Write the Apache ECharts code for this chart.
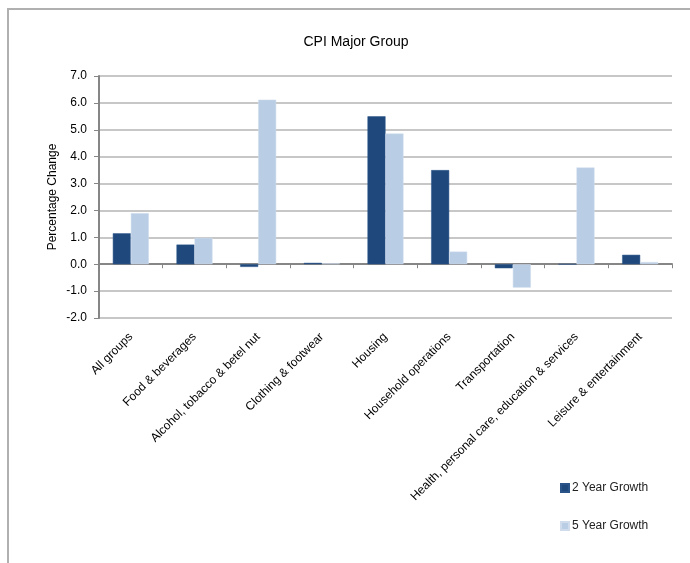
<!DOCTYPE html>
<html>
<head>
<meta charset="utf-8">
<script src="https://cdn.jsdelivr.net/npm/echarts@6/dist/echarts.min.js"></script>
<style>
html,body{margin:0;padding:0;background:#fff;}
#frame{position:absolute;left:7px;top:8px;right:-10px;bottom:-10px;border-left:2px solid #b0b0b0;border-top:2px solid #b0b0b0;}
#chart{position:absolute;left:0;top:0;width:690px;height:563px;}
</style>
</head>
<body>
<div id="frame"></div>
<div id="chart"></div>
<script>
const categories = ["All groups","Food & beverages","Alcohol, tobacco & betel nut","Clothing & footwear","Housing","Household operations","Transportation","Health, personal care, education & services","Leisure & entertainment"];
const growth2yr = [1.15, 0.73, -0.1, 0.05, 5.5, 3.5, -0.15, 0, 0.35];
const growth5yr = [1.9, 0.98, 6.12, 0.03, 4.86, 0.47, -0.87, 3.6, 0.08];
const seriesNames = ["2 Year Growth","5 Year Growth"];
const yTitle = "Percentage Change";
const chartTitle = "CPI Major Group";

const font = "'Liberation Sans',Arial,sans-serif";
const chart = echarts.init(document.getElementById('chart'));
chart.setOption({
  animation:false,
  title:{text:chartTitle,left:351,textAlign:'center',top:30,textStyle:{fontFamily:font,fontSize:14,fontWeight:'normal',color:'#000'}},
  grid:{left:99,right:18,top:76,bottom:245,containLabel:false},
  legend:{orient:'vertical',left:555,top:477,itemWidth:8,itemHeight:8,itemGap:26,icon:'rect',
    textStyle:{fontFamily:font,fontSize:12,color:'#222',padding:[0,0,0,-2]},data:seriesNames},
  xAxis:[
    {type:'category',data:categories,position:'bottom',
      axisLine:{show:false,onZero:false},axisTick:{show:false},
      axisLabel:{rotate:45,interval:0,margin:17,fontFamily:font,fontSize:12,color:'#000'}},
    {type:'category',data:categories,position:'bottom',
      axisLine:{show:true,onZero:true,lineStyle:{color:'#868686',width:2}},
      axisTick:{show:true,interval:0,length:4,lineStyle:{color:'#868686',width:1}},
      axisLabel:{show:false},splitLine:{show:false}}
  ],
  yAxis:{type:'value',min:-2,max:7,interval:1,name:yTitle,nameLocation:'middle',nameGap:40,nameMoveOverlap:false,
    nameTextStyle:{fontFamily:font,fontSize:12,color:'#000'},
    axisLine:{show:true,lineStyle:{color:'#868686',width:2}},
    axisTick:{show:true,length:5,lineStyle:{color:'#868686',width:1}},
    axisLabel:{fontFamily:font,fontSize:12,color:'#000',margin:12,formatter:v=>v.toFixed(1)},
    splitLine:{lineStyle:{color:'#b4b4b4',width:1.5}}},
  series:[
    {name:seriesNames[0],type:'bar',xAxisIndex:0,data:growth2yr,barWidth:18,barGap:'0%',
      itemStyle:{color:'#1F497D',borderColor:'#2b5489',borderWidth:0.5}},
    {name:seriesNames[1],type:'bar',xAxisIndex:0,data:growth5yr,barWidth:18,barGap:'0%',
      itemStyle:{color:'#B9CDE5',borderColor:'#d0dcec',borderWidth:0.5}}
  ]
});
</script>
</body>
</html>
